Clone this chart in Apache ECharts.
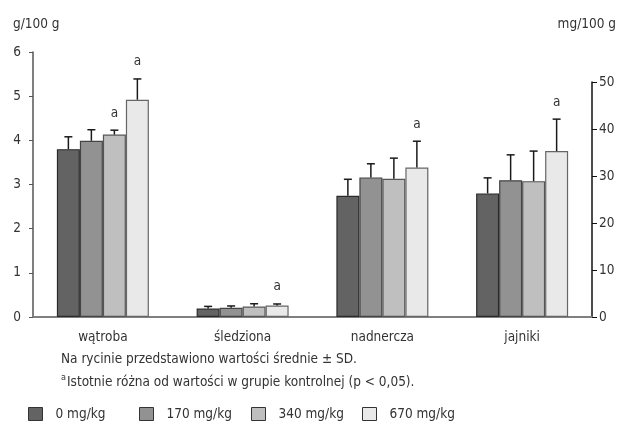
<!DOCTYPE html>
<html>
<head>
<meta charset="utf-8">
<script src="https://cdn.jsdelivr.net/npm/echarts@6/dist/echarts.min.js"></script>
<style>
  html, body { margin: 0; padding: 0; background: #fff; }
  #chart { width: 618px; height: 426px; }
</style>
</head>
<body>
<div id="chart"></div>
<script>
const categories = ['wątroba', 'śledziona', 'nadnercza', 'jajniki'];
const doses = ['0 mg/kg', '170 mg/kg', '340 mg/kg', '670 mg/kg'];
const onRightAxis = [false, false, true, true]; // nadnercza i jajniki w mg/100 g

const mean0   = [3.80, 0.19, 25.8, 26.3];
const mean170 = [3.99, 0.21, 29.7, 29.1];
const mean340 = [4.13, 0.235, 29.4, 28.9];
const mean670 = [4.92, 0.26, 31.8, 35.3];

const sd0   = [0.28, 0.05, 3.5, 3.3];
const sd170 = [0.25, 0.04, 2.9, 5.4];
const sd340 = [0.10, 0.065, 4.4, 6.4];
const sd670 = [0.47, 0.035, 5.6, 6.8];

// "a" - istotnie różne od kontroli
const sig0   = [0, 0, 0, 0];
const sig170 = [0, 0, 0, 0];
const sig340 = [1, 0, 0, 0];
const sig670 = [1, 1, 1, 1];

const leftTicks = [0, 6, 1];   // min, max, interval
const rightTicks = [0, 50, 10];

const means = [mean0, mean170, mean340, mean670];
const sds = [sd0, sd170, sd340, sd670];
const sigs = [sig0, sig170, sig340, sig670];

const barColors = ['#636363', '#929292', '#bfbfbf', '#e9e9e9'];
const barBorders = ['#2a2a2a', '#444444', '#555555', '#666666'];
const FONT = "'DejaVu Sans Condensed', 'DejaVu Sans', sans-serif";
const FS = 13.5;
const TXT = '#333';
const BAR_W = 23;
const legendLeft = [28, 139, 251, 362];

const chart = echarts.init(document.getElementById('chart'), null, { renderer: 'canvas' });

const grids = [
  { left: 33, right: 26, top: 52, bottom: 109 },
  { left: 33, right: 26, top: 82, bottom: 109 }
];

let series = [];
// słupki - grid 0 (lewa oś) i grid 1 (prawa oś)
[0, 1].forEach(g => {
  doses.forEach((d, i) => {
    series.push({
      name: d,
      type: 'bar',
      xAxisIndex: g,
      yAxisIndex: g,
      barWidth: BAR_W,
      barGap: '0%',
      itemStyle: { color: barColors[i], borderColor: barBorders[i], borderWidth: 1.2 },
      data: categories.map((c, k) => (onRightAxis[k] === (g === 1)) ? means[i][k] : '-'),
      z: 2
    });
  });
});

// słupki błędów + litery "a"
[0, 1].forEach(g => {
  let data = [];
  doses.forEach((d, i) => {
    categories.forEach((c, k) => {
      if (onRightAxis[k] === (g === 1)) {
        data.push([k, means[i][k], sds[i][k], i, sigs[i][k]]);
      }
    });
  });
  series.push({
    type: 'custom',
    xAxisIndex: g,
    yAxisIndex: g,
    z: 3,
    silent: true,
    data: data,
    renderItem: (params, api) => {
      const k = api.value(0);
      const m = api.value(1);
      const sd = api.value(2);
      const i = api.value(3);
      const s = api.value(4);
      const base = api.coord([k, m]);
      const top = api.coord([k, m + sd]);
      const x = base[0] + (i - 1.5) * BAR_W;
      const children = [
        { type: 'line', shape: { x1: x, y1: base[1], x2: x, y2: top[1] },
          style: { stroke: '#1a1a1a', lineWidth: 1.5 } },
        { type: 'line', shape: { x1: x - 4, y1: top[1], x2: x + 4, y2: top[1] },
          style: { stroke: '#1a1a1a', lineWidth: 1.5 } }
      ];
      if (s) {
        children.push({ type: 'text', x: x, y: top[1] - 17,
          style: { text: 'a', font: FS + 'px ' + FONT, fill: TXT, align: 'center', verticalAlign: 'middle' } });
      }
      return { type: 'group', children: children };
    }
  });
});

// osobna legenda dla każdej dawki - stałe odstępy jak na rycinie
const legends = doses.map((d, i) => ({
  data: [d],
  left: legendLeft[i],
  top: 407,
  padding: 0,
  itemWidth: 14,
  itemHeight: 13,
  icon: 'rect',
  itemStyle: { borderColor: '#333', borderWidth: 1 },
  textStyle: { fontFamily: FONT, fontSize: FS, color: TXT, padding: [0, 0, 0, 8] }
}));

const option = {
  animation: false,
  textStyle: { fontFamily: FONT },
  grid: grids,
  legend: legends,
  xAxis: [
    { type: 'category', gridIndex: 0, data: categories,
      axisLine: { lineStyle: { color: '#808080', width: 2 } },
      axisTick: { show: false },
      axisLabel: { fontFamily: FONT, fontSize: FS, color: TXT, margin: 13 } },
    { type: 'category', gridIndex: 1, data: categories, show: false }
  ],
  yAxis: [
    { type: 'value', gridIndex: 0, position: 'left',
      min: leftTicks[0], max: leftTicks[1], interval: leftTicks[2],
      axisLine: { show: true, lineStyle: { color: '#555', width: 1.5 } },
      axisTick: { show: true, length: 4, lineStyle: { color: '#555' } },
      splitLine: { show: false },
      axisLabel: { fontFamily: FONT, fontSize: FS, color: TXT, margin: 12 } },
    { type: 'value', gridIndex: 1, position: 'right',
      min: rightTicks[0], max: rightTicks[1], interval: rightTicks[2],
      axisLine: { show: true, lineStyle: { color: '#111', width: 1.5 } },
      axisTick: { show: true, length: 5, lineStyle: { color: '#111' } },
      splitLine: { show: false },
      axisLabel: { fontFamily: FONT, fontSize: FS, color: TXT, margin: 7 } }
  ],
  graphic: [
    { type: 'text', left: 13, top: 17, style: { text: 'g/100 g', font: FS + 'px ' + FONT, fill: TXT } },
    { type: 'text', right: 2, top: 17, style: { text: 'mg/100 g', font: FS + 'px ' + FONT, fill: TXT } },
    { type: 'text', left: 61, top: 352, style: { text: 'Na rycinie przedstawiono wartości średnie ± SD.', font: FS + 'px ' + FONT, fill: TXT } },
    { type: 'text', left: 61, top: 373, style: { text: 'a', font: '9px ' + FONT, fill: TXT } },
    { type: 'text', left: 67, top: 375, style: { text: 'Istotnie różna od wartości w grupie kontrolnej (p < 0,05).', font: FS + 'px ' + FONT, fill: TXT } }
  ],
  series: series
};

chart.setOption(option);
</script>
</body>
</html>
